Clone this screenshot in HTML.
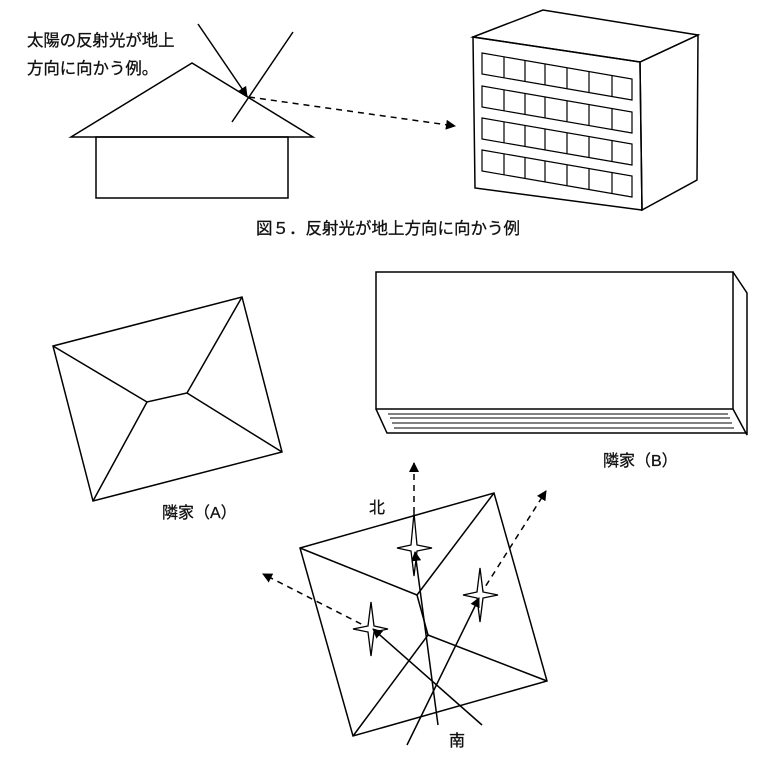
<!DOCTYPE html>
<html><head><meta charset="utf-8"><style>
html,body{margin:0;padding:0;background:#fff;}
svg{display:block;}
text{font-family:"Liberation Sans","Noto Sans CJK JP",sans-serif;fill:#111;stroke:#111;stroke-width:0.3;}
</style></head><body>
<svg width="768" height="762" viewBox="0 0 768 762" xmlns="http://www.w3.org/2000/svg">
<defs>
<marker id="ah" viewBox="0 0 10 10" refX="9" refY="5" markerWidth="10" markerHeight="10" markerUnits="userSpaceOnUse" orient="auto">
<path d="M0,0 L10,5 L0,10 z" fill="#000"/></marker>
</defs>
<g fill="none" stroke="#000" stroke-width="1.5">
<!-- house top -->
<polygon points="192,63 71,137 313,137" fill="#fff"/>
<rect x="96" y="137" width="192" height="61"/>
<line x1="293" y1="32" x2="232" y2="122"/>
<line x1="198" y1="24" x2="247" y2="96" marker-end="url(#ah)"/>
<line x1="249" y1="97" x2="455" y2="126" stroke-dasharray="6,5" marker-end="url(#ah)"/>
<!-- building -->
<polygon points="473,37 543,10 698,35 640,62"/>
<polygon points="640,62 698,35 697,180 642,210"/>
<polygon points="473,37 640,62 642,210 475,188"/>
<g stroke-width="1.2">
<polygon points="482,53 632,79 632,100 482,74"/>
<polygon points="482,86 632,112 632,133 482,107"/>
<polygon points="482,118 632,144 632,165 482,139"/>
<polygon points="482,150 632,176 632,197 482,171"/>
<path d="M504,57v21 M525,60v21 M545,64v21 M567,68v21 M589,72v21 M612,76v21
M504,90v21 M525,93v21 M545,97v21 M567,101v21 M589,105v21 M612,109v21
M504,122v21 M525,125v21 M545,129v21 M567,133v21 M589,137v21 M612,141v21
M504,154v21 M525,157v21 M545,161v21 M567,165v21 M589,169v21 M612,173v21"/>
</g>
<!-- house A -->
<polygon points="53,346 242,297 282,452 93,501"/>
<polyline points="53,346 147,402 187,393 242,297"/>
<line x1="147" y1="402" x2="93" y2="501"/>
<line x1="187" y1="393" x2="282" y2="452"/>
<!-- house B -->
<rect x="376" y="272" width="357" height="137"/>
<polyline points="733,272 747,293 747,435 733,409"/>
<polyline points="376,409 387,433 747,433"/>
<g stroke-width="1">
<line x1="388" y1="414" x2="728" y2="414"/>
<line x1="390" y1="418" x2="730" y2="418"/>
<line x1="392" y1="423" x2="732" y2="423"/>
<line x1="394" y1="428" x2="734" y2="428"/>
</g>
<!-- square roof -->
<polygon points="300,548 494,493 547,681 353,736"/>
<line x1="300" y1="548" x2="417" y2="595"/>
<line x1="494" y1="493" x2="417" y2="595"/>
<line x1="417" y1="595" x2="428" y2="635"/>
<line x1="428" y1="635" x2="353" y2="736"/>
<line x1="428" y1="635" x2="547" y2="681"/>
<!-- dashed outgoing -->
<line x1="414" y1="513" x2="414" y2="463" stroke-dasharray="6,5" marker-end="url(#ah)"/>
<line x1="371" y1="629" x2="263" y2="574" stroke-dasharray="6,5" marker-end="url(#ah)"/>
<line x1="480" y1="595" x2="546" y2="491" stroke-dasharray="6,5" marker-end="url(#ah)"/>
<!-- stars -->
<g fill="#fff" stroke-width="1.3">
<polygon points="414,513 417,545 432,548 417,551 414,576 411,551 397,548 411,545"/>
<polygon points="371,602 374,626 388,629 374,632 371,656 368,632 353,629 368,626"/>
<polygon points="480,568 483,592 498,595 483,598 480,622 477,598 463,595 477,592"/>
</g>
<!-- solid incoming -->
<line x1="438" y1="725" x2="415" y2="552" marker-end="url(#ah)"/>
<line x1="482" y1="725" x2="373" y2="629" marker-end="url(#ah)"/>
<line x1="407" y1="745" x2="479" y2="598" marker-end="url(#ah)"/>
</g>
<text x="27" y="46" font-size="16.4">太陽の反射光が地上</text>
<text x="27" y="74" font-size="16.4">方向に向かう例。</text>
<text x="256" y="234" font-size="16.5">図５．反射光が地上方向に向かう例</text>
<text x="162" y="518" font-size="16">隣家（A）</text>
<text x="603" y="466" font-size="16">隣家（B）</text>
<text x="369" y="513" font-size="16">北</text>
<text x="449" y="746" font-size="16">南</text>
</svg>
</body></html>
